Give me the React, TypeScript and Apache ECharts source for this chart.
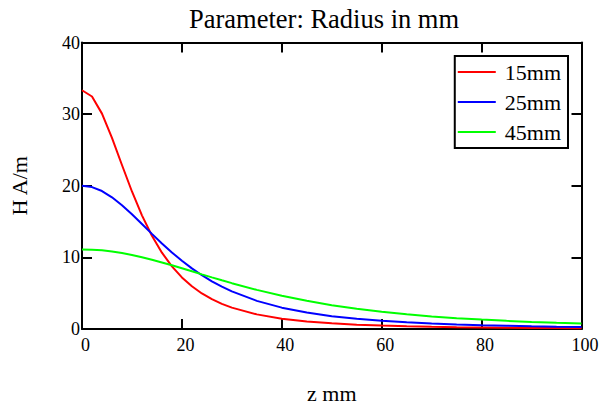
import React, { useEffect, useRef } from "react";
import * as echarts from "echarts";

const zValues = [0, 2, 4, 6, 8, 10, 12, 14, 16, 18, 20, 22, 24, 26, 28, 30, 35, 40, 45, 50, 55, 60, 65, 70, 75, 80, 85, 90, 95, 100];
const h15 = [33.33, 32.46, 30.07, 26.68, 22.9, 19.2, 15.87, 13.02, 10.66, 8.75, 7.2, 5.96, 4.96, 4.16, 3.51, 2.98, 2.04, 1.44, 1.05, 0.79, 0.61, 0.48, 0.38, 0.31, 0.25, 0.21, 0.17, 0.15, 0.13, 0.11];
const h25 = [20.0, 19.81, 19.26, 18.39, 17.28, 16.01, 14.65, 13.28, 11.95, 10.69, 9.52, 8.46, 7.51, 6.66, 5.91, 5.25, 3.93, 2.98, 2.29, 1.79, 1.42, 1.14, 0.93, 0.76, 0.63, 0.53, 0.45, 0.38, 0.33, 0.29];
const h45 = [11.11, 11.08, 10.98, 10.82, 10.6, 10.34, 10.02, 9.67, 9.29, 8.89, 8.48, 8.06, 7.63, 7.21, 6.8, 6.4, 5.46, 4.64, 3.93, 3.33, 2.82, 2.4, 2.05, 1.76, 1.51, 1.31, 1.14, 0.99, 0.87, 0.77];
const seriesNames = ["15mm", "25mm", "45mm"];
const seriesColors = ["#ff0000", "#0000ff", "#00ff00"];

const FONT = "Times New Roman, Liberation Serif, DejaVu Serif, serif";

export default function App() {
  const ref = useRef<HTMLDivElement>(null);
  useEffect(() => {
    if (!ref.current) return;
    const chart = echarts.init(ref.current, null, { renderer: "svg" });
    const tickStyle = { show: true, inside: true, length: 10, lineStyle: { color: "#000", width: 2 } };
    const lineStyle = { show: true, onZero: false, lineStyle: { color: "#000", width: 2 } };
    const all = [h15, h25, h45];
    chart.setOption({
      animation: false,
      backgroundColor: "#fff",
      textStyle: { fontFamily: FONT },
      title: {
        text: "Parameter: Radius in mm",
        left: 184,
        top: 0,
        textStyle: { fontFamily: FONT, fontSize: 26.5, fontWeight: "normal", color: "#000" },
      },
      grid: { left: 77, right: 21.5, top: 42.5, bottom: 76.3, containLabel: false },
      legend: {
        orient: "vertical",
        right: 35,
        top: 56,
        icon: "rect",
        itemWidth: 38,
        itemHeight: 2,
        itemGap: 8,
        padding: [5, 7, 5, 3],
        borderColor: "#000",
        borderWidth: 2,
        backgroundColor: "#fff",
        textStyle: { fontFamily: FONT, fontSize: 22, color: "#000", padding: [0, 0, 0, 4] },
        data: seriesNames,
      },
      xAxis: [
        {
          type: "value",
          position: "bottom",
          min: 0,
          max: 100,
          interval: 20,
          name: "z mm",
          nameLocation: "middle",
          nameGap: 53,
          nameTextStyle: { fontFamily: FONT, fontSize: 22, color: "#000" },
          axisLine: lineStyle,
          axisTick: tickStyle,
          splitLine: { show: false },
          axisLabel: { fontFamily: FONT, fontSize: 18, color: "#000", margin: 7, padding: [0, 0, 0, 7] },
        },
        {
          type: "value",
          position: "top",
          min: 0,
          max: 100,
          interval: 20,
          axisLine: lineStyle,
          axisTick: tickStyle,
          splitLine: { show: false },
          axisLabel: { show: false },
        },
      ],
      yAxis: [
        {
          type: "value",
          position: "left",
          min: 0,
          max: 40,
          interval: 10,
          name: "H A/m",
          nameLocation: "middle",
          nameGap: 52,
          nameTextStyle: { fontFamily: FONT, fontSize: 22, color: "#000" },
          axisLine: lineStyle,
          axisTick: tickStyle,
          splitLine: { show: false },
          axisLabel: { fontFamily: FONT, fontSize: 18, color: "#000", margin: 2, padding: [7, 0, 0, 0] },
        },
        {
          type: "value",
          position: "right",
          min: 0,
          max: 40,
          interval: 10,
          axisLine: lineStyle,
          axisTick: tickStyle,
          splitLine: { show: false },
          axisLabel: { show: false },
        },
      ],
      series: seriesNames.map((name, i) => ({
        name,
        type: "line",
        xAxisIndex: 0,
        yAxisIndex: 0,
        symbol: "none",
        smooth: false,
        color: seriesColors[i],
        lineStyle: { color: seriesColors[i], width: 2 },
        data: zValues.map((z, k) => [z, all[i][k]]),
      })),
    });
    return () => chart.dispose();
  }, []);
  return <div ref={ref} style={{ position: "absolute", left: 0, top: 0, width: 603, height: 409 }} />;
}
